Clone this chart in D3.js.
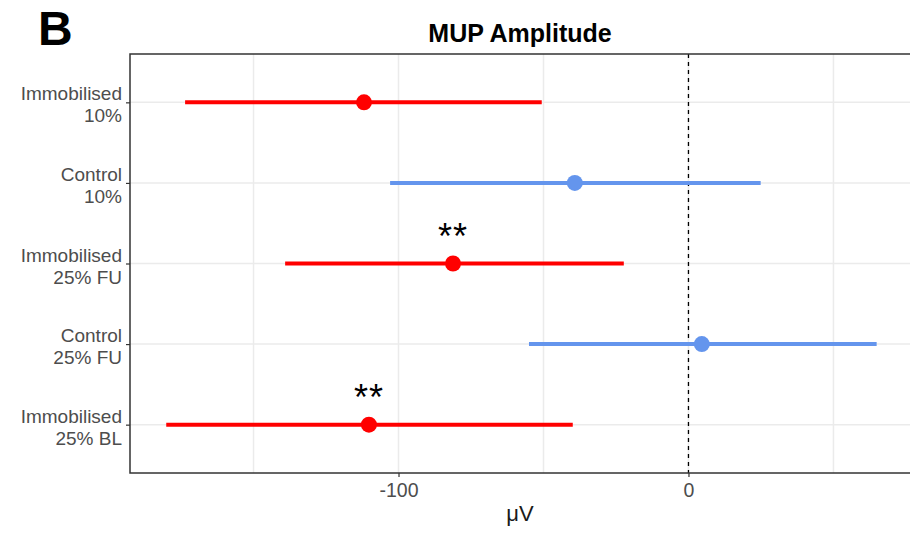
<!DOCTYPE html>
<html>
<head>
<meta charset="utf-8">
<script src="https://cdn.jsdelivr.net/npm/d3@7"></script>
<style>
  body { margin: 0; background: #fff; }
  svg { font-family: "Liberation Sans", Arial, sans-serif; }
</style>
</head>
<body>
<div id="chart"></div>
<script>
var width = 910;
var height = 533;

// data, top row first
var groups = ["Immobilised\n10%", "Control\n10%", "Immobilised\n25% FU", "Control\n25% FU", "Immobilised\n25% BL"];
var estimate = [-111.9, -39.2, -81.2, 4.6, -110.2];
var lower = [-173.6, -102.9, -139.1, -55.0, -180.1];
var upper = [-50.6, 24.9, -22.3, 64.9, -39.9];
var condition = ["Immobilised", "Control", "Immobilised", "Control", "Immobilised"];
var signif = ["", "", "**", "", "**"];
var xTicks = [-100, 0];
var xGrid = [-150, -100, -50, 0, 50];

var colours = { Immobilised: "#ff0000", Control: "#6495ed" };

var pLeft = 130, pRight = 911, pTop = 54, pBottom = 473;

var x = d3.scaleLinear().domain([-192.6, 76.4]).range([pLeft, 910]);
var y = d3.scalePoint().domain(groups).range([pTop, pBottom]).padding(0.6);

var svg = d3.select("#chart").append("svg")
    .attr("width", width)
    .attr("height", height);

// panel label
svg.append("text")
    .attr("x", 38).attr("y", 45)
    .attr("font-size", 48).attr("font-weight", "bold")
    .text("B");

// title
svg.append("text")
    .attr("x", 520).attr("y", 42)
    .attr("text-anchor", "middle")
    .attr("font-size", 25).attr("font-weight", "bold")
    .text("MUP Amplitude");

// grid lines
svg.append("g").selectAll("line")
    .data(xGrid)
    .enter().append("line")
        .attr("x1", function(d){ return x(d); })
        .attr("x2", function(d){ return x(d); })
        .attr("y1", pTop).attr("y2", pBottom)
        .attr("stroke", "#ebebeb").attr("stroke-width", 1.5);

svg.append("g").selectAll("line")
    .data(groups)
    .enter().append("line")
        .attr("x1", pLeft).attr("x2", pRight)
        .attr("y1", function(d){ return y(d); })
        .attr("y2", function(d){ return y(d); })
        .attr("stroke", "#ebebeb").attr("stroke-width", 1.5);

// zero reference line
svg.append("line")
    .attr("x1", x(0)).attr("x2", x(0))
    .attr("y1", pTop).attr("y2", pBottom)
    .attr("stroke", "#000").attr("stroke-width", 1.3)
    .attr("stroke-dasharray", "4,4");

// x axis
var xAxis = svg.append("g")
    .attr("transform", "translate(0," + pBottom + ")")
    .call(d3.axisBottom(x).tickValues(xTicks).tickSize(4).tickPadding(6));
xAxis.select(".domain").remove();
xAxis.selectAll("line").attr("stroke", "#333").attr("stroke-width", 1.2);
xAxis.selectAll("text")
    .attr("font-family", "Liberation Sans, Arial, sans-serif")
    .attr("font-size", 19.5).attr("fill", "#4d4d4d")
    .text(function(d){ return d < 0 ? "-" + Math.abs(d) : d; });

// y axis
var yAxis = svg.append("g")
    .attr("transform", "translate(" + pLeft + ",0)")
    .call(d3.axisLeft(y).tickSize(4).tickFormat(""));
yAxis.select(".domain").remove();
yAxis.selectAll("line").attr("stroke", "#333").attr("stroke-width", 1.2);

svg.append("g").selectAll("text")
    .data(groups)
    .enter().append("text")
        .attr("text-anchor", "end")
        .attr("font-size", 19)
        .attr("fill", "#4d4d4d")
        .each(function(d){
            var lines = d.split("\n");
            var t = d3.select(this);
            lines.forEach(function(l, i){
                t.append("tspan")
                    .attr("x", 122)
                    .attr("y", y(d) - 2 + i * 22)
                    .text(l);
            });
        });

// error bars
svg.append("g").selectAll("line")
    .data(groups)
    .enter().append("line")
        .attr("x1", function(d,i){ return x(lower[i]); })
        .attr("x2", function(d,i){ return x(upper[i]); })
        .attr("y1", function(d){ return y(d); })
        .attr("y2", function(d){ return y(d); })
        .attr("stroke", function(d,i){ return colours[condition[i]]; })
        .attr("stroke-width", 4);

// points
svg.append("g").selectAll("circle")
    .data(groups)
    .enter().append("circle")
        .attr("cx", function(d,i){ return x(estimate[i]); })
        .attr("cy", function(d){ return y(d); })
        .attr("r", 8)
        .attr("fill", function(d,i){ return colours[condition[i]]; });

// significance stars
svg.append("g").selectAll("text")
    .data(groups)
    .enter().append("text")
        .attr("x", function(d,i){ return x(estimate[i]); })
        .attr("y", function(d){ return y(d) - 15; })
        .attr("text-anchor", "middle")
        .attr("font-size", 36)
        .attr("letter-spacing", 1)
        .text(function(d,i){ return signif[i]; });

// axis title
svg.append("text")
    .attr("x", 520).attr("y", 521)
    .attr("text-anchor", "middle")
    .attr("font-size", 22)
    .attr("fill", "#1a1a1a")
    .text("μV");

// panel border
svg.append("rect")
    .attr("x", pLeft).attr("y", pTop)
    .attr("width", pRight - pLeft).attr("height", pBottom - pTop)
    .attr("fill", "none")
    .attr("stroke", "#333").attr("stroke-width", 1.5);
</script>
</body>
</html>
